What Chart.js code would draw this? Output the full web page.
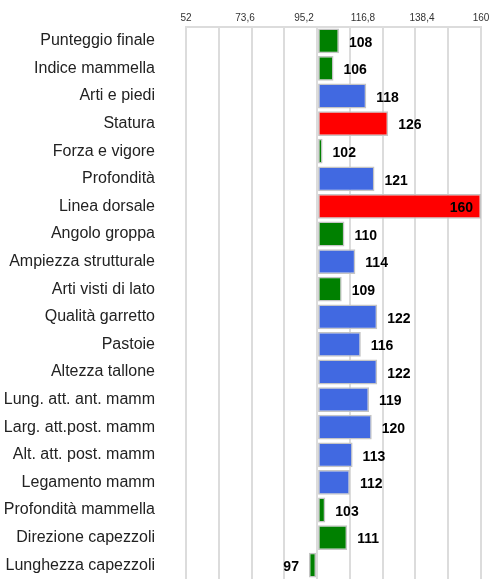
<!DOCTYPE html>
<html>
<head>
<meta charset="utf-8">
<script src="https://cdn.jsdelivr.net/npm/chart.js@4"></script>
<style>
  html, body { margin: 0; padding: 0; background: #fff; overflow: hidden; }
  canvas { display: block; }
</style>
</head>
<body>
<canvas id="c" width="491" height="579" style="width:491px;height:579px"></canvas>
<script>
const categories = [
  "Punteggio finale", "Indice mammella", "Arti e piedi", "Statura", "Forza e vigore",
  "Profondità", "Linea dorsale", "Angolo groppa", "Ampiezza strutturale", "Arti visti di lato",
  "Qualità garretto", "Pastoie", "Altezza tallone", "Lung. att. ant. mamm", "Larg. att.post. mamm",
  "Alt. att. post. mamm", "Legamento mamm", "Profondità mammella", "Direzione capezzoli", "Lunghezza capezzoli"
];
const values = [108, 106, 118, 126, 102, 121, 160, 110, 114, 109, 122, 116, 122, 119, 120, 113, 112, 103, 111, 97];
const barColors = [
  "#008000", "#008000", "#4169E1", "#FF0000", "#008000",
  "#4169E1", "#FF0000", "#008000", "#4169E1", "#008000",
  "#4169E1", "#4169E1", "#4169E1", "#4169E1", "#4169E1",
  "#4169E1", "#4169E1", "#008000", "#008000", "#008000"
];
const baseValue = 100;
const axisMin = 52;
const axisMax = 160;
const tickLabels = [52, 73.6, 95.2, 116.8, 138.4, 160];
const gridValues = [52, 64, 76, 88, 100, 112, 124, 136, 148, 160];

const allTicks = Array.from(new Set(tickLabels.concat(gridValues))).sort((a, b) => a - b);
const near = (arr, v) => arr.some(t => Math.abs(t - v) < 1e-6);

const valueLabels = {
  id: 'valueLabels',
  afterDatasetsDraw(chart) {
    const ctx = chart.ctx;
    const meta = chart.getDatasetMeta(0);
    const area = chart.chartArea;
    ctx.save();
    ctx.font = 'bold 14px "Liberation Sans", Arial, sans-serif';
    ctx.fillStyle = '#000';
    ctx.textBaseline = 'middle';
    meta.data.forEach((bar, i) => {
      const v = values[i];
      const txt = String(v);
      const w = ctx.measureText(txt).width;
      let x, align;
      if (v >= baseValue) {
        if (bar.x + 10 + w > area.right) { x = bar.x - 8; align = 'right'; }
        else { x = bar.x + 10; align = 'left'; }
      } else {
        x = bar.x - 10; align = 'right';
      }
      ctx.textAlign = align;
      ctx.fillText(txt, x, bar.y + 2);
    });
    ctx.restore();
  }
};

new Chart(document.getElementById('c'), {
  type: 'bar',
  data: {
    labels: categories,
    datasets: [{
      data: values,
      base: baseValue,
      backgroundColor: barColors,
      borderColor: '#c4c4c4',
      borderWidth: 1.5,
      borderSkipped: false,
      categoryPercentage: 1.0,
      barPercentage: 0.9
    }]
  },
  options: {
    indexAxis: 'y',
    responsive: false,
    maintainAspectRatio: false,
    devicePixelRatio: 1,
    animation: false,
    layout: { padding: { left: 0, right: 10, top: 0, bottom: 0 } },
    plugins: { legend: { display: false }, tooltip: { enabled: false } },
    scales: {
      x: {
        position: 'top',
        min: axisMin,
        max: axisMax,
        afterBuildTicks(axis) { axis.ticks = allTicks.map(v => ({ value: v })); },
        afterFit(axis) {
          axis.height = 27;
          axis.paddingLeft = 0; axis.paddingRight = 0;
          axis.paddingTop = 0; axis.paddingBottom = 0;
        },
        grid: {
          drawTicks: false,
          lineWidth: 2,
          color: (c) => (c.tick && near(gridValues, c.tick.value)) ? '#dcdcdc' : 'rgba(0,0,0,0)'
        },
        border: { display: true, color: '#dcdcdc', width: 2 },
        ticks: {
          autoSkip: false,
          maxRotation: 0,
          padding: 3,
          color: '#333',
          font: { family: '"Liberation Sans", Arial, sans-serif', size: 10 },
          callback: (v) => near(tickLabels, v) ? String(Math.round(v * 10) / 10).replace('.', ',') : ''
        }
      },
      y: {
        afterFit(axis) {
          axis.width = 186;
          axis.paddingTop = 0; axis.paddingBottom = 0;
          axis.paddingLeft = 0; axis.paddingRight = 0;
        },
        grid: { display: false, drawTicks: false },
        border: { display: false },
        ticks: {
          padding: 31,
          color: '#222',
          font: { family: '"Liberation Sans", Arial, sans-serif', size: 16 }
        }
      }
    }
  },
  plugins: [valueLabels]
});
</script>
</body>
</html>
